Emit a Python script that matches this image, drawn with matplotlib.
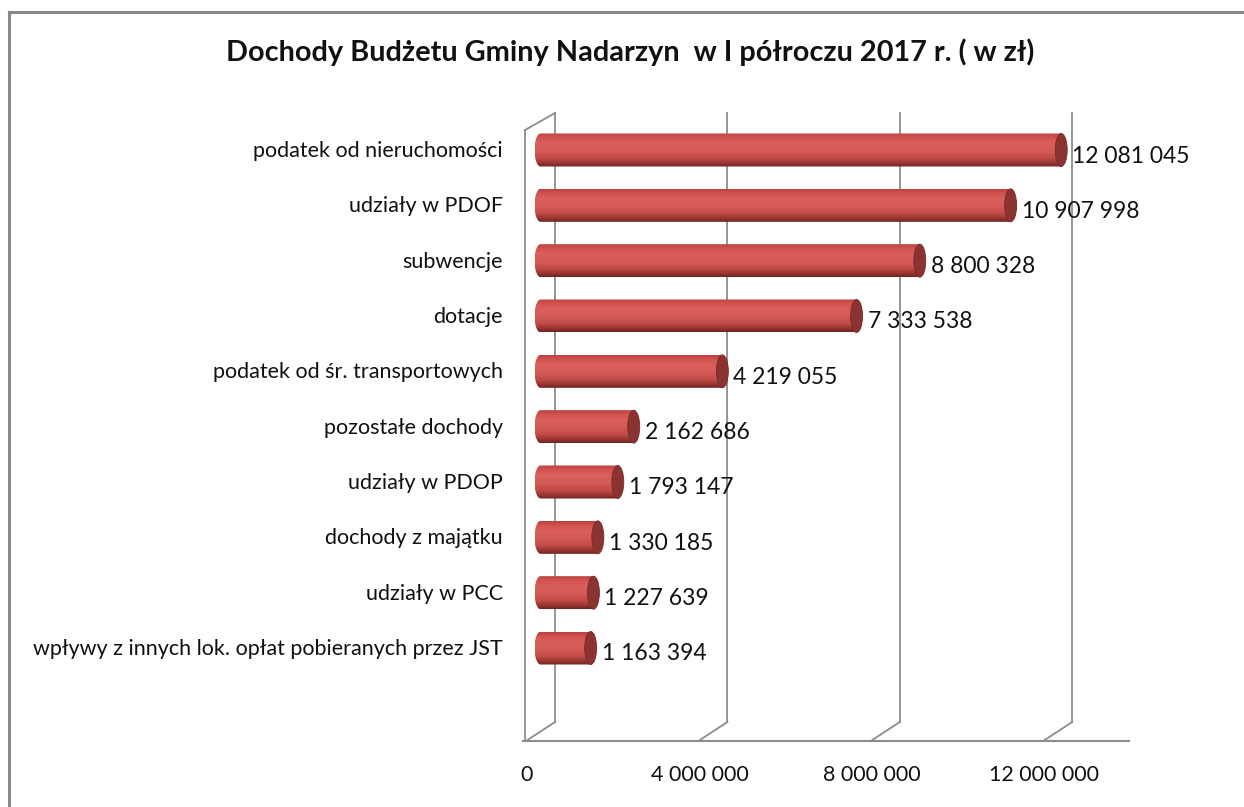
import numpy as np
import matplotlib
matplotlib.use("Agg")
import matplotlib.pyplot as plt
from matplotlib.patches import Ellipse, PathPatch
from matplotlib.path import Path
from matplotlib.transforms import ScaledTranslation
from matplotlib.colors import LinearSegmentedColormap
from matplotlib.lines import Line2D

plt.rcParams['font.family'] = ['Lato', 'DejaVu Sans']

title = "Dochody Budżetu Gminy Nadarzyn  w I półroczu 2017 r. ( w zł)"
categories = [
    "podatek od nieruchomości",
    "udziały w PDOF",
    "subwencje",
    "dotacje",
    "podatek od śr. transportowych",
    "pozostałe dochody",
    "udziały w PDOP",
    "dochody z majątku",
    "udziały w PCC",
    "wpływy z innych lok. opłat pobieranych przez JST",
]
values = [12081045, 10907998, 8800328, 7333538, 4219055,
          2162686, 1793147, 1330185, 1227639, 1163394]
value_labels = ["12 081 045", "10 907 998", "8 800 328", "7 333 538", "4 219 055",
                "2 162 686", "1 793 147", "1 330 185", "1 227 639", "1 163 394"]
xticks = [0, 4000000, 8000000, 12000000]
xtick_labels = ["0", "4 000 000", "8 000 000", "12 000 000"]

W, H = 1244, 807
DPI = 100
fig = plt.figure(figsize=(W / DPI, H / DPI), dpi=DPI)

# Axes geometry (pixels, top-left origin), middle depth plane
px_per_unit = 43.1e-6
x0, x1 = -0.4e6, 13.5e6
zero_px = 540.5
ax_left = zero_px + x0 * px_per_unit
ax_right = zero_px + x1 * px_per_unit
ax_top, ax_bot = 122.5, 731.5
ax = fig.add_axes([ax_left / W, 1 - ax_bot / H, (ax_right - ax_left) / W, (ax_bot - ax_top) / H])
n = len(categories)
ypos = np.arange(n)[::-1]  # first category at top
unit_px = (648 - 150) / (n - 1)
ax.set_xlim(x0, x1)
ax.set_ylim(-(ax_bot - 648) / unit_px, (n - 1) + (150 - ax_top) / unit_px)
ax.axis('off')

def off(dx, dy):
    return ScaledTranslation(dx / DPI, -dy / DPI, fig.dpi_scale_trans)

grid_c = '#8c8c8c'
ymin, ymax = ax.get_ylim()
front_t = ax.transData + off(-14.5, 9.5)
back_t = ax.transData + off(14.5, -9.5)

# back wall gridlines
for t in xticks:
    ax.add_line(Line2D([t, t], [ymin, ymax], color=grid_c, lw=1.3, transform=back_t, clip_on=False))
# floor connectors
for t in xticks:
    p0 = front_t.transform((t, ymin))
    p1 = back_t.transform((t, ymin))
    fig.add_artist(Line2D([p0[0], p1[0]], [p0[1], p1[1]], color=grid_c, lw=1.3, transform=None))
# front floor line
ax.add_line(Line2D([-0.07e6, 14.0e6], [ymin, ymin], color=grid_c, lw=1.5, transform=front_t, clip_on=False))
# left wall
wall_top = ymax + 2 / unit_px
ax.add_line(Line2D([-0.02e6, -0.02e6], [ymin, wall_top], color=grid_c, lw=1.3, transform=front_t, clip_on=False))
p0 = front_t.transform((-0.02e6, wall_top))
p1 = back_t.transform((0, ymax))
fig.add_artist(Line2D([p0[0], p1[0]], [p0[1], p1[1]], color=grid_c, lw=1.3, transform=None))

# bars (cylinders)
bar_h = 33 / unit_px
cap_w = 12 / px_per_unit
cmap = LinearSegmentedColormap.from_list('cyl', [
    (0.0, '#b9433f'), (0.12, '#d1524f'), (0.3, '#da605c'), (0.55, '#d55955'),
    (0.75, '#c04a47'), (0.9, '#963430'), (1.0, '#702422')])
grad = np.linspace(0, 1, 64).reshape(-1, 1)
th = np.linspace(np.pi / 2, 3 * np.pi / 2, 30)
for y, v in zip(ypos, values):
    y0, y1 = y - bar_h / 2, y + bar_h / 2
    im = ax.imshow(grad, cmap=cmap, extent=[-cap_w / 2, v, y0, y1], aspect='auto',
                   origin='upper', interpolation='bilinear', zorder=3)
    verts = [(0, y0), (v, y0), (v, y1), (0, y1)]
    verts += [(cap_w / 2 * np.cos(a), y + bar_h / 2 * np.sin(a)) for a in th]
    verts.append((0, y0))
    codes = [Path.MOVETO] + [Path.LINETO] * (len(verts) - 2) + [Path.CLOSEPOLY]
    clip = PathPatch(Path(verts, codes), transform=ax.transData, facecolor='none', edgecolor='none')
    ax.add_patch(clip)
    im.set_clip_path(clip)
    ax.add_patch(Ellipse((v, y), cap_w, bar_h, facecolor='#8a3331', edgecolor='#7a2b29',
                         lw=0.6, zorder=4))

for y, v, lab in zip(ypos, values, value_labels):
    ax.text(v, y, lab, transform=ax.transData + off(11, 6), ha='left', va='center',
            fontsize=16.5, color='#111111', zorder=6)

# category labels
for y, c in zip(ypos, categories):
    ax.text(0, y, c, transform=ax.transData + off(-37.5, 1), ha='right', va='center',
            fontsize=15.5, color='#111111')

# x tick labels
for t, lab in zip(xticks, xtick_labels):
    ax.text(t, ymin, lab, transform=front_t + off(1, 34), ha='center', va='center',
            fontsize=15.5, color='#111111')

fig.text(630 / W, 1 - 52 / H, title, ha='center', va='center', fontsize=20.8,
         fontweight='bold', color='#111111')

# outer border
fig.add_artist(Line2D([8.5 / W, 8.5 / W], [0, 1 - 12 / H], color='#888888', lw=2.2, transform=fig.transFigure))
fig.add_artist(Line2D([8.5 / W, 1], [1 - 12 / H, 1 - 12 / H], color='#888888', lw=2.2, transform=fig.transFigure))

fig.savefig('out.png', dpi=DPI, facecolor='white')
